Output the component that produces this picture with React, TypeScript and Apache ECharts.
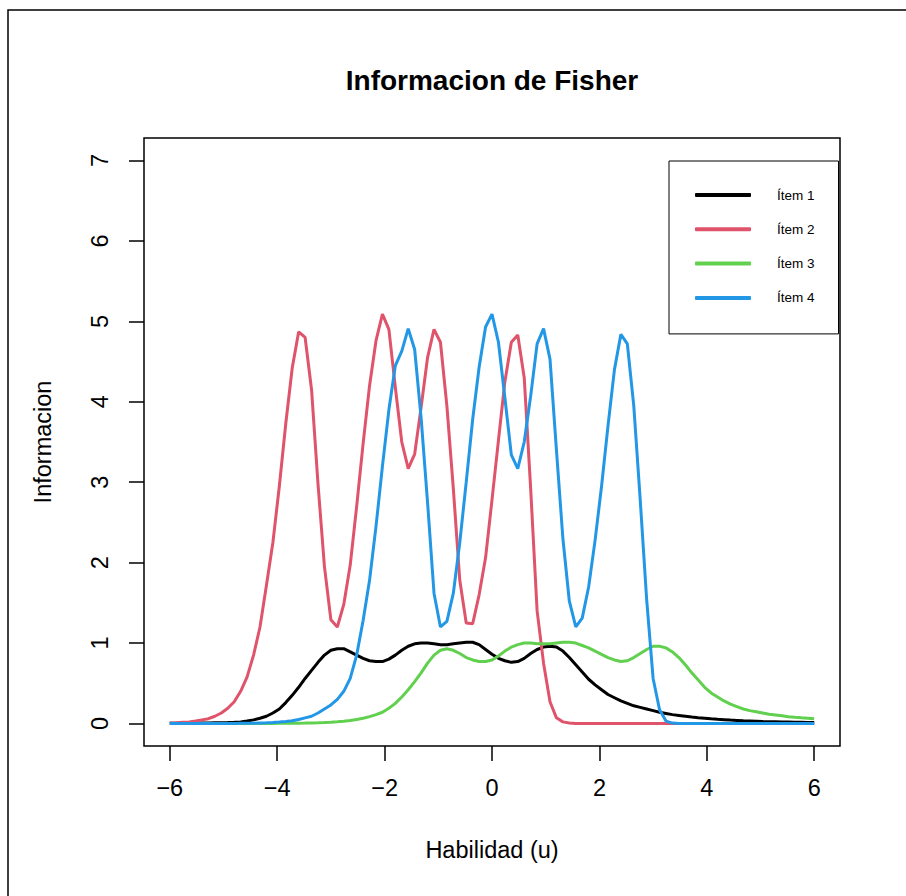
import React, { useEffect, useRef } from 'react';
import * as echarts from 'echarts';

const theta = [
  -6, -5.88, -5.76, -5.64, -5.52, -5.4, -5.28, -5.16, -5.04, -4.92,
  -4.8, -4.68, -4.56, -4.44, -4.32, -4.2, -4.08, -3.96, -3.84, -3.72,
  -3.6, -3.48, -3.36, -3.24, -3.12, -3, -2.88, -2.76, -2.64, -2.52,
  -2.4, -2.28, -2.16, -2.04, -1.92, -1.8, -1.68, -1.56, -1.44, -1.32,
  -1.2, -1.08, -0.96, -0.84, -0.72, -0.6, -0.48, -0.36, -0.24, -0.12,
  0, 0.12, 0.24, 0.36, 0.48, 0.6, 0.72, 0.84, 0.96, 1.08,
  1.2, 1.32, 1.44, 1.56, 1.68, 1.8, 1.92, 2.04, 2.16, 2.28,
  2.4, 2.52, 2.64, 2.76, 2.88, 3, 3.12, 3.24, 3.36, 3.48,
  3.6, 3.72, 3.84, 3.96, 4.08, 4.2, 4.32, 4.44, 4.56, 4.68,
  4.8, 4.92, 5.04, 5.16, 5.28, 5.4, 5.52, 5.64, 5.76, 5.88,
  6,
];

const item1 = [
  0.002, 0.003, 0.003, 0.004, 0.005, 0.005, 0.006, 0.008, 0.01, 0.012,
  0.015, 0.02, 0.03, 0.045, 0.065, 0.09, 0.13, 0.18, 0.26, 0.35,
  0.45, 0.56, 0.66, 0.76, 0.85, 0.91, 0.93, 0.93, 0.89, 0.85,
  0.81, 0.78, 0.77, 0.77, 0.8, 0.85, 0.91, 0.96, 0.99, 1.0,
  1.0, 0.99, 0.98, 0.98, 0.99, 1.0, 1.01, 1.01, 0.98, 0.92,
  0.86, 0.81, 0.78, 0.76, 0.77, 0.81, 0.87, 0.92, 0.95, 0.96,
  0.95, 0.9, 0.82, 0.73, 0.64, 0.55, 0.48, 0.42, 0.36, 0.32,
  0.28, 0.25, 0.22, 0.2, 0.18, 0.16, 0.14, 0.125, 0.11, 0.1,
  0.09, 0.08, 0.072, 0.065, 0.058, 0.052, 0.047, 0.042, 0.038, 0.034,
  0.031, 0.028, 0.025, 0.023, 0.021, 0.019, 0.017, 0.015, 0.014, 0.013,
  0.012,
];

const item2 = [
  0.007, 0.01, 0.015, 0.02, 0.03, 0.045, 0.06, 0.09, 0.13, 0.19,
  0.27, 0.4, 0.58, 0.85, 1.2, 1.72, 2.25, 2.95, 3.73, 4.42,
  4.87, 4.8, 4.15, 2.98, 1.95, 1.29, 1.2, 1.48, 1.97, 2.7,
  3.48, 4.2, 4.76, 5.09, 4.9, 4.18, 3.5, 3.17, 3.35, 3.93,
  4.55, 4.9, 4.74, 3.95, 2.92, 1.78, 1.25, 1.24, 1.6, 2.06,
  2.78, 3.52, 4.25, 4.74, 4.83, 4.3, 2.92, 1.4, 0.75, 0.27,
  0.07, 0.02, 0.005, 0, 0, 0, 0, 0, 0, 0,
  0, 0, 0, 0, 0, 0, 0, 0, 0, 0,
  0, 0, 0, 0, 0, 0, 0, 0, 0, 0,
  0, 0, 0, 0, 0, 0, 0, 0, 0, 0,
  0,
];

const item3 = [
  0, 0, 0, 0, 0, 0, 0, 0, 0, 0,
  0, 0, 0, 0, 0, 0.001, 0.001, 0.002, 0.002, 0.003,
  0.004, 0.005, 0.007, 0.009, 0.012, 0.016, 0.021, 0.028, 0.037, 0.05,
  0.065, 0.085, 0.11, 0.14, 0.19, 0.25, 0.33, 0.42, 0.52, 0.63,
  0.75, 0.85, 0.91, 0.93, 0.91, 0.87, 0.82, 0.79, 0.77, 0.77,
  0.79, 0.84, 0.9, 0.95, 0.98, 1.0, 1.0, 0.99, 0.99, 0.99,
  1.0, 1.01, 1.01, 1.0, 0.97, 0.94, 0.9, 0.86, 0.82, 0.79,
  0.77, 0.78, 0.82, 0.87, 0.92, 0.96, 0.96, 0.94, 0.89, 0.82,
  0.73, 0.63, 0.54, 0.45, 0.38, 0.33, 0.28, 0.24, 0.21, 0.18,
  0.16, 0.145, 0.13, 0.115, 0.105, 0.095, 0.085, 0.077, 0.07, 0.064,
  0.058,
];

const item4 = [
  0, 0, 0, 0, 0, 0, 0, 0, 0.001, 0.001,
  0.001, 0.002, 0.003, 0.004, 0.006, 0.008, 0.012, 0.017, 0.025, 0.035,
  0.05, 0.07, 0.09, 0.13, 0.18, 0.23, 0.3, 0.4, 0.56, 0.85,
  1.28, 1.78, 2.45, 3.2, 3.9, 4.45, 4.63, 4.91, 4.65, 3.8,
  2.75, 1.62, 1.2, 1.27, 1.62, 2.25, 3.0, 3.78, 4.43, 4.93,
  5.09, 4.74, 4.05, 3.34, 3.17, 3.5, 4.07, 4.72, 4.91, 4.53,
  3.4, 2.3, 1.52, 1.2, 1.31, 1.7, 2.28, 2.95, 3.7, 4.4,
  4.84, 4.72, 3.95, 2.78, 1.54, 0.56, 0.17, 0.03, 0.005, 0,
  0, 0, 0, 0, 0, 0, 0, 0, 0, 0,
  0, 0, 0, 0, 0, 0, 0, 0, 0, 0,
  0,
];

const seriesNames = ['Ítem 1', 'Ítem 2', 'Ítem 3', 'Ítem 4'];
const seriesValues = [item1, item2, item3, item4];
const seriesColors = ['#000000', '#DF536B', '#61D04F', '#2297E6'];
const xTicks = [-6, -4, -2, 0, 2, 4, 6];
const yTicks = [0, 1, 2, 3, 4, 5, 6, 7];

export default function App() {
  const ref = useRef<HTMLDivElement>(null);
  useEffect(() => {
    if (!ref.current) return;
    const chart = echarts.init(ref.current, null, { renderer: 'svg' });
    const font = '"Liberation Sans", Arial, Helvetica, sans-serif';
    const fmt = (v: number) => String(v).replace('-', '\u2212');
    chart.setOption({
      animation: false,
      backgroundColor: '#ffffff',
      textStyle: { fontFamily: font },
      title: {
        text: 'Informacion de Fisher',
        left: 492,
        top: 66,
        textAlign: 'center',
        padding: 0,
        textStyle: { fontSize: 28, fontWeight: 'bold', color: '#000', fontFamily: font },
      },
      grid: {
        left: 144,
        top: 138,
        right: 66,
        bottom: 150,
        show: true,
        borderColor: '#000',
        borderWidth: 1.5,
        backgroundColor: 'transparent',
      },
      legend: {
        data: seriesNames.map((name, k) => ({
          name,
          icon: 'roundRect',
          itemStyle: { color: seriesColors[k], borderWidth: 0 },
        })),
        orient: 'vertical',
        left: 669,
        top: 161,
        borderColor: '#000',
        borderWidth: 1,
        borderRadius: 0,
        padding: [26, 24, 28, 26],
        itemWidth: 56,
        itemHeight: 4,
        itemGap: 18.3,
        textStyle: { fontSize: 13.5, color: '#000', fontFamily: font, padding: [0, 0, 0, 21], lineHeight: 16 },
      },
      xAxis: {
        type: 'value',
        min: -6.48,
        max: 6.48,
        name: 'Habilidad (u)',
        nameLocation: 'middle',
        nameGap: 92,
        nameTextStyle: { fontSize: 23.5, color: '#000', fontFamily: font },
        axisLine: { show: false, onZero: false },
        axisTick: { show: true, length: 15, customValues: xTicks, lineStyle: { color: '#000', width: 1.5 } },
        axisLabel: { customValues: xTicks, formatter: fmt, margin: 30, fontSize: 23.5, color: '#000', fontFamily: font },
        splitLine: { show: false },
      },
      yAxis: {
        type: 'value',
        min: -0.28,
        max: 7.28,
        name: 'Informacion',
        nameLocation: 'middle',
        nameGap: 89,
        nameRotate: 90,
        nameTextStyle: { fontSize: 23.5, color: '#000', fontFamily: font },
        axisLine: { show: false, onZero: false },
        axisTick: { show: true, length: 15, customValues: yTicks, lineStyle: { color: '#000', width: 1.5 } },
        axisLabel: { customValues: yTicks, formatter: fmt, margin: 32, rotate: 90, fontSize: 23.5, color: '#000', fontFamily: font },
        splitLine: { show: false },
      },
      graphic: [
        {
          type: 'rect',
          silent: true,
          shape: { x: 8, y: 10, width: 1000, height: 1000 },
          style: { fill: 'none', stroke: '#000', lineWidth: 1.5 },
        },
      ],
      series: seriesNames.map((name, k) => ({
        name,
        type: 'line',
        showSymbol: false,
        symbol: 'none',
        color: seriesColors[k],
        lineStyle: { width: 3, color: seriesColors[k] },
        data: theta.map((t, i) => [t, seriesValues[k][i]]),
      })),
    });
    return () => chart.dispose();
  }, []);
  return <div ref={ref} style={{ position: 'absolute', left: 0, top: 0, width: 906, height: 896 }} />;
}
